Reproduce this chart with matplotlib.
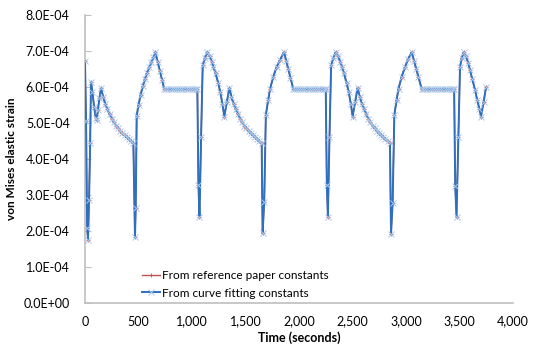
import numpy as np
import matplotlib
matplotlib.use("Agg")
import matplotlib.pyplot as plt
from matplotlib.ticker import FuncFormatter, MultipleLocator

# time (s) and von Mises elastic strain (x1e-4)
time_s = [
    0, 10, 20, 28, 38, 48, 56, 70, 85, 100, 109, 120, 135, 150,
    170, 190, 210, 230, 250, 270, 290, 310, 330, 350, 370, 390, 410, 430, 452,
    467, 474, 483, 500, 520, 540, 560, 580, 600, 620, 640, 657,
    680, 700, 720, 741,
    760, 780, 800, 820, 840, 860, 880, 900, 920, 940, 960, 980, 1000, 1020, 1040, 1050,
    1060, 1070, 1085, 1100, 1120, 1143, 1165, 1185, 1200, 1220, 1246, 1265, 1285, 1302, 1325, 1349,
    1369, 1389, 1409, 1429, 1449, 1469, 1489, 1509, 1529, 1549, 1569, 1589, 1609, 1629, 1651,
    1660, 1675, 1690, 1712, 1730, 1760, 1790, 1822, 1860,
    1880, 1900, 1920, 1947,
    1960, 1980, 2000, 2020, 2040, 2060, 2080, 2100, 2120, 2140, 2160, 2180, 2200, 2220, 2240, 2250,
    2260, 2270, 2285, 2300, 2320, 2343, 2365, 2385, 2400, 2420, 2446, 2465, 2485, 2501, 2525, 2548,
    2568, 2588, 2608, 2628, 2648, 2668, 2688, 2708, 2728, 2748, 2768, 2788, 2808, 2828, 2850,
    2860, 2875, 2891, 2912, 2930, 2960, 2990, 3020, 3053,
    3075, 3095, 3115, 3147,
    3160, 3180, 3200, 3220, 3240, 3260, 3280, 3300, 3320, 3340, 3360, 3380, 3400, 3420, 3440, 3450,
    3460, 3472, 3490, 3505, 3520, 3540, 3560, 3580, 3598, 3620, 3645, 3665, 3685, 3701, 3725, 3748,
]

strain_fit = [
    6.72, 5.05, 2.08, 1.76, 2.86, 4.44, 6.14, 5.85, 5.45, 5.15, 5.08, 5.35, 5.70, 5.97,
    5.72, 5.53, 5.38, 5.24, 5.12, 5.02, 4.93, 4.85, 4.78, 4.71, 4.66, 4.60, 4.55, 4.50, 4.45,
    1.82, 2.64, 5.20, 5.50, 5.78, 6.02, 6.22, 6.40, 6.55, 6.69, 6.83, 6.97,
    6.69, 6.45, 6.20, 5.94,
    5.94, 5.94, 5.94, 5.94, 5.94, 5.94, 5.94, 5.94, 5.94, 5.94, 5.94, 5.94, 5.94, 5.94, 5.94, 5.94,
    3.28, 2.40, 4.62, 6.60, 6.80, 6.97, 6.85, 6.70, 6.56, 6.38, 6.10, 5.85, 5.52, 5.18, 5.58, 5.98,
    5.72, 5.53, 5.38, 5.24, 5.12, 5.02, 4.93, 4.85, 4.78, 4.71, 4.66, 4.60, 4.55, 4.50, 4.44,
    1.94, 2.81, 5.22, 5.64, 5.95, 6.29, 6.55, 6.75, 6.97,
    6.73, 6.50, 6.26, 5.94,
    5.94, 5.94, 5.94, 5.94, 5.94, 5.94, 5.94, 5.94, 5.94, 5.94, 5.94, 5.94, 5.94, 5.94, 5.94, 5.94,
    3.28, 2.40, 4.62, 6.60, 6.80, 6.97, 6.85, 6.70, 6.56, 6.38, 6.10, 5.85, 5.52, 5.18, 5.58, 5.98,
    5.72, 5.53, 5.38, 5.24, 5.12, 5.02, 4.93, 4.85, 4.78, 4.71, 4.66, 4.60, 4.55, 4.50, 4.44,
    1.92, 2.77, 5.22, 5.64, 5.95, 6.29, 6.55, 6.78, 6.97,
    6.73, 6.51, 6.29, 5.94,
    5.94, 5.94, 5.94, 5.94, 5.94, 5.94, 5.94, 5.94, 5.94, 5.94, 5.94, 5.94, 5.94, 5.94, 5.94, 5.94,
    3.25, 2.40, 4.62, 6.56, 6.80, 6.97, 6.85, 6.68, 6.47, 6.22, 5.92, 5.65, 5.40, 5.18, 5.58, 5.99,
]

# the reference-paper curve sits right under the fitted one at this resolution
strain_ref = list(strain_fit)

labels = ["From reference paper constants", "From curve fitting constants"]

t = np.array(time_s)
y_fit = np.array(strain_fit) * 1e-4
y_ref = np.array(strain_ref) * 1e-4

plt.rcParams["font.family"] = ["Lato", "DejaVu Sans"]

fig = plt.figure(figsize=(5.45, 3.6), dpi=100)
ax = fig.add_axes([85 / 545, 1 - 303 / 360, 428 / 545, 288 / 360])

ax.plot(t, y_ref, color="#C0504D", lw=1.0, marker="+", ms=2.5, mew=0.6,
        label=labels[0], zorder=2)
ax.plot(t, y_fit, color="#2E6FBF", lw=1.4, marker="x", ms=3.8, mew=0.7,
        mec="#A9C8EC", label=labels[1], zorder=3)

ax.set_xlim(0, 4000)
ax.set_ylim(0, 8e-4)
ax.xaxis.set_major_locator(MultipleLocator(500))
ax.yaxis.set_major_locator(MultipleLocator(1e-4))
ax.xaxis.set_major_formatter(FuncFormatter(lambda v, p: f"{v:,.0f}"))
ax.yaxis.set_major_formatter(FuncFormatter(lambda v, p: f"{v:.1E}"))

for s in ["top", "right"]:
    ax.spines[s].set_visible(False)
ax.spines["left"].set_color("#BFBFBF")
ax.spines["bottom"].set_color("#BFBFBF")
ax.spines["left"].set_linewidth(1.2)
ax.spines["bottom"].set_linewidth(1.2)

ax.tick_params(axis="y", direction="in", length=4, color="#BFBFBF",
               labelsize=9, pad=11)
ax.tick_params(axis="x", length=0, labelsize=9, pad=9)

ax.set_xlabel("Time (seconds)", fontsize=9, fontweight="bold", labelpad=3)
ax.set_ylabel("von Mises elastic strain", fontsize=8.5, fontweight="bold",
              labelpad=5)

ax.legend(loc="lower left", bbox_to_anchor=(0.12, -0.005), frameon=False,
          fontsize=8.5, handlelength=1.5, handletextpad=0.2, labelspacing=0.55,
          borderpad=0)

fig.savefig("out.png", dpi=100)
